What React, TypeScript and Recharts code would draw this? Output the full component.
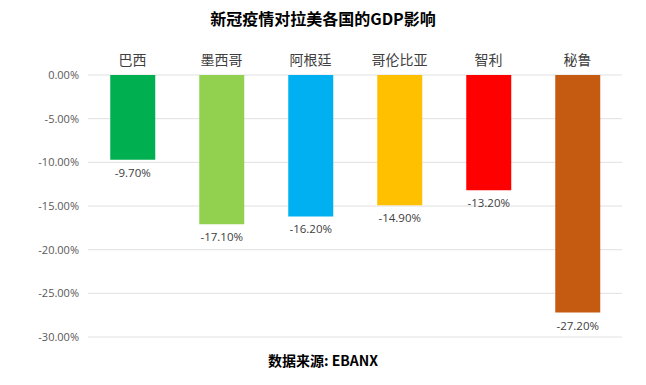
import { BarChart, Bar, XAxis, YAxis, CartesianGrid, Cell, LabelList } from "recharts";

const countries = ["巴西", "墨西哥", "阿根廷", "哥伦比亚", "智利", "秘鲁"];
const gdpChange = [-9.7, -17.1, -16.2, -14.9, -13.2, -27.2];
const barColors = ["#00b050", "#92d050", "#00b0f0", "#ffc000", "#ff0000", "#c55a11"];
const yTicks = [0, -5, -10, -15, -20, -25, -30];

const data = countries.map((name, i) => ({ name, value: gdpChange[i] }));

const numFont = "'Open Sans', 'Noto Sans', sans-serif";
const cjkFont = "'Noto Sans CJK SC', sans-serif";

// label under the end of each (negative) bar
const renderValueLabel = (props: any) => {
  const { x, y, width, height, value } = props;
  const bottom = Math.max(y, y + height);
  return (
    <text
      x={x + width / 2}
      y={bottom + 17}
      textAnchor="middle"
      fill="#404040"
      fontSize={11.5}
      fontFamily={numFont}
    >
      {value.toFixed(2) + "%"}
    </text>
  );
};

export default function App() {
  return (
    <div style={{ position: "absolute", left: 0, top: 0, width: 646, height: 385, background: "#fff" }}>
      <div
        style={{
          position: "absolute",
          top: 6,
          width: 646,
          textAlign: "center",
          fontFamily: cjkFont,
          fontWeight: 700,
          fontSize: 16,
          color: "#000",
        }}
      >
        新冠疫情对拉美各国的GDP影响
      </div>
      <BarChart
        width={646}
        height={385}
        data={data}
        margin={{ top: 55, right: 24, left: 0, bottom: 48 }}
        barCategoryGap="25%"
      >
        <CartesianGrid vertical={false} stroke="#e0e0e0" />
        <XAxis
          dataKey="name"
          orientation="top"
          height={20}
          axisLine={false}
          tickLine={false}
          tick={{ fill: "#404040", fontSize: 14, fontFamily: cjkFont }}
          tickMargin={4}
        />
        <YAxis
          width={88}
          domain={[-30, 0]}
          ticks={yTicks}
          axisLine={false}
          tickLine={false}
          tickMargin={3}
          tickFormatter={(v: number) => v.toFixed(2) + "%"}
          tick={{ fill: "#595959", fontSize: 11, fontFamily: numFont }}
        />
        <Bar dataKey="value" isAnimationActive={false}>
          {data.map((d, i) => (
            <Cell key={d.name} fill={barColors[i]} />
          ))}
          <LabelList dataKey="value" content={renderValueLabel} />
        </Bar>
      </BarChart>
      <div
        style={{
          position: "absolute",
          top: 350,
          width: 646,
          textAlign: "center",
          fontFamily: cjkFont,
          fontWeight: 700,
          fontSize: 14,
          color: "#000",
        }}
      >
        数据来源: EBANX
      </div>
    </div>
  );
}
